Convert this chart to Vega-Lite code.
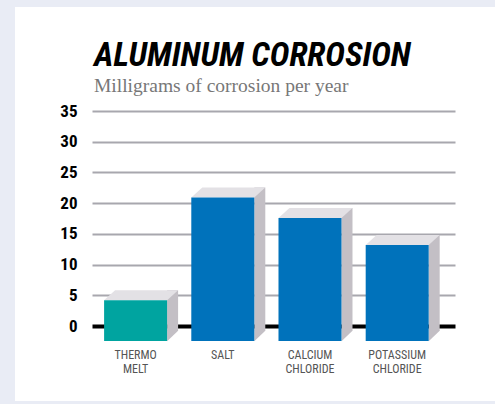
{
  "$schema": "https://vega.github.io/schema/vega-lite/v6.json",
  "width": 480,
  "height": 394,
  "autosize": "none",
  "padding": {"left": 15, "top": 7, "right": 0, "bottom": 3},
  "background": "#e9ecf5",
  "config": {"view": {"stroke": null, "fill": "white"}},
  "title": {
    "text": "ALUMINUM CORROSION",
    "subtitle": "Milligrams of corrosion per year",
    "anchor": "start",
    "frame": "group",
    "dx": 79,
    "offset": -89,
    "font": "Roboto Condensed, Roboto, sans-serif",
    "fontSize": 33.5,
    "fontStyle": "italic",
    "fontWeight": "bold",
    "color": "black",
    "subtitleFont": "Liberation Serif, DejaVu Serif, serif",
    "subtitleFontSize": 19.5,
    "subtitleColor": "#777777",
    "subtitlePadding": 3
  },
  "data": {
    "values": [
      {"cat": "THERMO MELT", "value": 4.2},
      {"cat": "SALT", "value": 20.9},
      {"cat": "CALCIUM CHLORIDE", "value": 17.6},
      {"cat": "POTASSIUM CHLORIDE", "value": 13.2}
    ]
  },
  "encoding": {
    "x": {
      "field": "cat",
      "type": "nominal",
      "sort": null,
      "scale": {"range": [77, 440], "paddingInner": 0, "paddingOuter": 0.0815, "align": 0},
      "axis": {
        "orient": "bottom",
        "offset": -60,
        "domain": false,
        "ticks": false,
        "grid": false,
        "labelPadding": 8,
        "labelAngle": 0,
        "labelExpr": "split(datum.label, ' ')",
        "labelFont": "Roboto Condensed, Roboto, sans-serif",
        "labelFontSize": 12,
        "labelColor": "#555555",
        "labelLineHeight": 14,
        "labelBaseline": "top",
        "title": null
      }
    },
    "y": {
      "field": "value",
      "type": "quantitative",
      "scale": {"domain": [-2.44, 35], "range": [334, 104], "nice": false, "zero": false},
      "axis": {
        "values": [0, 5, 10, 15, 20, 25, 30, 35],
        "offset": -77,
        "domain": false,
        "ticks": false,
        "grid": true,
        "gridColor": {"condition": {"test": "datum.value === 0", "value": "black"}, "value": "#a8a7ae"},
        "gridWidth": {"condition": {"test": "datum.value === 0", "value": 4}, "value": 2},
        "labelPadding": 15,
        "labelFont": "Roboto Condensed, Roboto, sans-serif",
        "labelFontSize": 17,
        "labelFontWeight": "bold",
        "labelColor": "black",
        "title": null
      }
    }
  },
  "layer": [
    {
      "mark": {"type": "bar", "width": 11, "xOffset": 37, "yOffset": -10, "y2Offset": -10, "color": "#c3bfc5"},
      "encoding": {"y2": {"datum": -2.44}}
    },
    {
      "mark": {"type": "point", "shape": "M-1,-0.95L-1,0.95L1,-0.95Z", "size": 121, "filled": true, "opacity": 1, "color": "#c3bfc5", "xOffset": 37, "yOffset": -5},
      "encoding": {"y": {"datum": -2.44, "type": "quantitative"}}
    },
    {
      "mark": {"type": "point", "shape": "M-1,0.135L-0.703,-0.135L1,-0.135L0.703,0.135Z", "size": 5476, "filled": true, "opacity": 1, "color": "#e3e1e5", "xOffset": 5.5, "yOffset": -5}
    },
    {
      "mark": {"type": "bar", "width": 63},
      "encoding": {
        "y2": {"datum": -2.44},
        "color": {
          "field": "cat",
          "type": "nominal",
          "sort": null,
          "scale": {"domain": ["THERMO MELT", "SALT", "CALCIUM CHLORIDE", "POTASSIUM CHLORIDE"], "range": ["#00a4a0", "#0072bb", "#0072bb", "#0072bb"]},
          "legend": null
        }
      }
    }
  ]
}
